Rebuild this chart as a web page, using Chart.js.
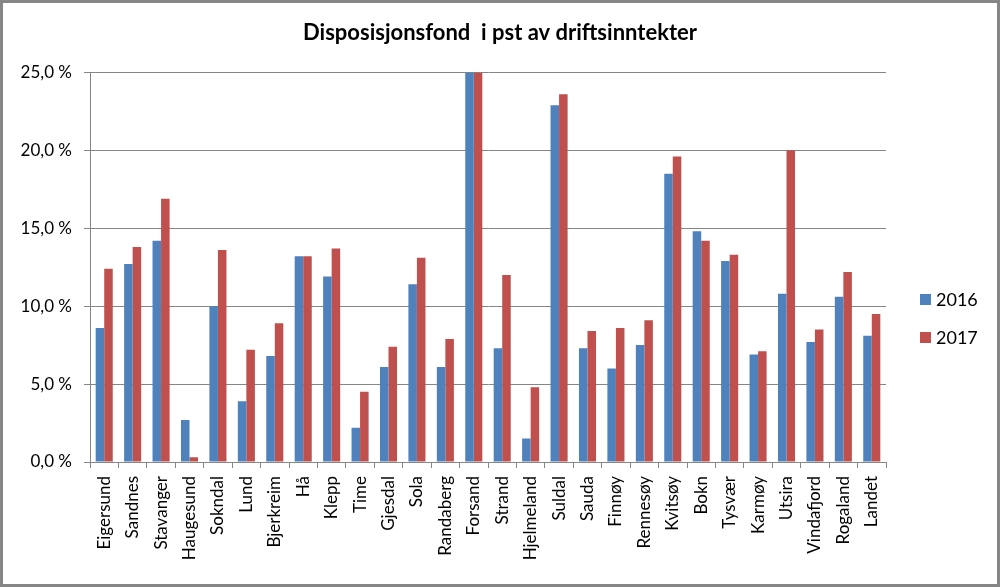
<!DOCTYPE html>
<html>
<head>
<meta charset="utf-8">
<script src="https://cdn.jsdelivr.net/npm/chart.js@4/dist/chart.umd.min.js"></script>
<style>
  html, body { margin: 0; padding: 0; background: #fff; }
  #wrap { width: 1000px; height: 587px; }
</style>
</head>
<body>
<div id="wrap"><canvas id="fondChart" width="1000" height="587"></canvas></div>
<script>
// Kommuner (kategorier)
const kommuner = ['Eigersund', 'Sandnes', 'Stavanger', 'Haugesund', 'Sokndal', 'Lund', 'Bjerkreim', 'Hå',
  'Klepp', 'Time', 'Gjesdal', 'Sola', 'Randaberg', 'Forsand', 'Strand', 'Hjelmeland', 'Suldal', 'Sauda',
  'Finnøy', 'Rennesøy', 'Kvitsøy', 'Bokn', 'Tysvær', 'Karmøy', 'Utsira', 'Vindafjord', 'Rogaland', 'Landet'];

// Disposisjonsfond i pst av driftsinntekter
const verdier2016 = [8.6, 12.7, 14.2, 2.7, 10.0, 3.9, 6.8, 13.2, 11.9, 2.2, 6.1, 11.4, 6.1, 25.0,
  7.3, 1.5, 22.9, 7.3, 6.0, 7.5, 18.5, 14.8, 12.9, 6.9, 10.8, 7.7, 10.6, 8.1];
const verdier2017 = [12.4, 13.8, 16.9, 0.3, 13.6, 7.2, 8.9, 13.2, 13.7, 4.5, 7.4, 13.1, 7.9, 25.0,
  12.0, 4.8, 23.6, 8.4, 8.6, 9.1, 19.6, 14.2, 13.3, 7.1, 20.0, 8.5, 12.2, 9.5];

const serieNavn = ['2016', '2017'];
const farger = ['#4F81BD', '#C0504D'];
const yTicks = [0, 5, 10, 15, 20, 25];

const fontFamily = 'Lato, "Open Sans", sans-serif';
const gridColor = '#868686';

// bakgrunn, ramme og legende til høyre
const rammePlugin = {
  id: 'ramme',
  beforeDraw(chart) {
    const ctx = chart.ctx;
    ctx.save();
    ctx.fillStyle = '#fff';
    ctx.fillRect(0, 0, chart.width, chart.height);
    ctx.restore();
  },
  afterDraw(chart) {
    const ctx = chart.ctx;
    ctx.save();
    ctx.strokeStyle = '#868686';
    ctx.lineWidth = 3;
    ctx.strokeRect(1.5, 1.5, chart.width - 3, chart.height - 3);

    // legende
    ctx.font = '18px ' + fontFamily;
    ctx.textBaseline = 'middle';
    chart.data.datasets.forEach((ds, i) => {
      const y = 299 + i * 38;
      ctx.fillStyle = ds.backgroundColor;
      ctx.fillRect(920, y - 5, 11, 11);
      ctx.fillStyle = '#000';
      ctx.fillText(ds.label, 936, y + 1);
    });
    ctx.restore();
  }
};

const ctx = document.getElementById('fondChart').getContext('2d');
const fondChart = new Chart(ctx, {
  type: 'bar',
  data: {
    labels: kommuner,
    datasets: [
      { label: serieNavn[0], data: verdier2016, backgroundColor: farger[0] },
      { label: serieNavn[1], data: verdier2017, backgroundColor: farger[1] }
    ]
  },
  options: {
    responsive: false,
    animation: false,
    layout: { padding: 0 },
    datasets: {
      bar: { categoryPercentage: 0.6, barPercentage: 1.0 }
    },
    plugins: {
      legend: { display: false },
      tooltip: { enabled: false },
      title: {
        display: true,
        text: 'Disposisjonsfond  i pst av driftsinntekter',
        color: '#000',
        font: { family: fontFamily, size: 22, weight: 'bold' },
        padding: { top: 20, bottom: 26 }
      }
    },
    scales: {
      x: {
        grid: { drawOnChartArea: false, drawTicks: true, tickLength: 6, color: gridColor, offset: true },
        border: { color: gridColor },
        ticks: {
          color: '#000',
          font: { family: fontFamily, size: 17 },
          minRotation: 90,
          maxRotation: 90,
          autoSkip: false,
          padding: 8
        },
        afterFit(scale) { scale.height = 125; }
      },
      y: {
        min: 0,
        max: 25,
        afterBuildTicks(scale) { scale.ticks = yTicks.map(v => ({ value: v })); },
        grid: { color: gridColor, tickLength: 6, drawTicks: true },
        border: { color: gridColor },
        ticks: {
          color: '#000',
          font: { family: fontFamily, size: 17 },
          padding: 12,
          callback: v => v.toFixed(1).replace('.', ',') + ' %'
        },
        afterFit(scale) { scale.width = 90; }
      },
      // tom akse til høyre som holder plass til legenden
      plass: {
        position: 'right',
        min: 0,
        max: 25,
        grid: { display: false },
        border: { display: false },
        ticks: { display: false },
        afterFit(scale) { scale.width = 114; }
      }
    }
  },
  plugins: [rammePlugin]
});
</script>
</body>
</html>
